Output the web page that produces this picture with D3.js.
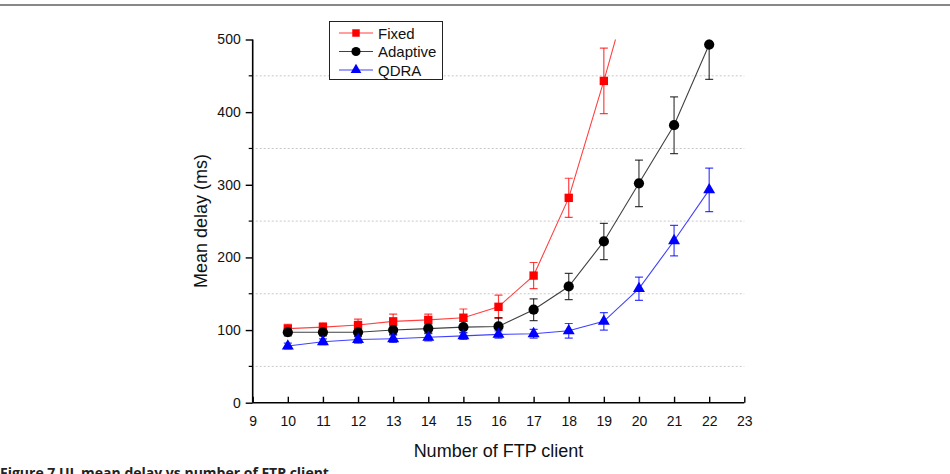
<!DOCTYPE html>
<html>
<head>
<meta charset="utf-8">
<script src="https://cdn.jsdelivr.net/npm/d3@7"></script>
<style>
  body { margin: 0; background: #fff; }
  svg { display: block; font-family: Arial, "Liberation Sans", sans-serif; }
</style>
</head>
<body>
<svg width="950" height="474"></svg>
<script>
// data
const fixedX = [10, 11, 12, 13, 14, 15, 16, 17, 18, 19, 20];
const fixedY = [102, 104, 107, 112, 114, 117, 132, 175, 282, 443, 615];
const fixedErr = [6, 6, 8, 10, 8, 12, 16, 18, 27, 45, 0];

const adaptiveX = [10, 11, 12, 13, 14, 15, 16, 17, 18, 19, 20, 21, 22];
const adaptiveY = [97, 97, 97, 100, 102, 104, 105, 128, 160, 222, 302, 382, 493];
const adaptiveErr = [5, 5, 6, 6, 6, 8, 12, 15, 18, 25, 32, 39, 48];

const qdraX = [10, 11, 12, 13, 14, 15, 16, 17, 18, 19, 20, 21, 22];
const qdraY = [78, 84, 87, 88, 90, 92, 94, 95, 99, 112, 157, 223, 293];
const qdraErr = [4, 4, 5, 5, 5, 5, 5, 6, 10, 12, 16, 21, 30];

const xTicks = [9, 10, 11, 12, 13, 14, 15, 16, 17, 18, 19, 20, 21, 22, 23];
const yTicks = [0, 100, 200, 300, 400, 500];
const yMinor = [50, 150, 250, 350, 450];

const series = [
  { name: "Fixed", color: "#ff0000", symbol: d3.symbolSquare, size: 70, xs: fixedX, ys: fixedY, errs: fixedErr },
  { name: "Adaptive", color: "#000000", symbol: d3.symbolCircle, size: 82, xs: adaptiveX, ys: adaptiveY, errs: adaptiveErr },
  { name: "QDRA", color: "#0000ff", symbol: d3.symbolTriangle, size: 62, xs: qdraX, ys: qdraY, errs: qdraErr }
];

const svg = d3.select("svg");

// page rule at the top
svg.append("line")
    .attr("x1", 0).attr("x2", 950)
    .attr("y1", 5).attr("y2", 5)
    .attr("stroke", "#888").attr("stroke-width", 2);

const x = d3.scaleLinear().domain([9, 23]).range([252.7, 744.3]);
const y = d3.scaleLinear().domain([0, 500]).range([402.7, 39.5]);

// clip for data
svg.append("clipPath").attr("id", "plot")
    .append("rect")
    .attr("x", x(9)).attr("y", y(500))
    .attr("width", x(23) - x(9)).attr("height", y(0) - y(500));

// dotted grid at minor values
svg.append("g")
    .selectAll("line")
    .data(yMinor)
    .join("line")
    .attr("x1", x(9) + 3).attr("x2", x(23))
    .attr("y1", d => y(d)).attr("y2", d => y(d))
    .attr("stroke", "#c8c8c8")
    .attr("stroke-width", 1)
    .attr("stroke-dasharray", "2 2");

// Y axis
const yAxis = svg.append("g")
    .attr("transform", `translate(${x(9)},0)`)
    .call(d3.axisLeft(y).tickValues(yTicks).tickSize(7).tickPadding(5));
yAxis.selectAll("text").style("font-size", "14px").attr("fill", "#111");
yAxis.select(".domain").attr("stroke-width", 1.6).attr("d", `M0,${y(0)}V${y(500)}`);
yAxis.selectAll(".tick line").attr("stroke-width", 1.4);
yAxis.selectAll(".minor")
    .data(yMinor)
    .join("line")
    .attr("class", "minor")
    .attr("x1", -4).attr("x2", 0)
    .attr("y1", d => y(d)).attr("y2", d => y(d))
    .attr("stroke", "#000").attr("stroke-width", 1.2);

// X axis, ticks pointing inward
const xAxis = svg.append("g")
    .attr("transform", `translate(0,${y(0)})`)
    .call(d3.axisBottom(x).tickValues(xTicks).tickSize(0).tickPadding(13));
xAxis.selectAll("text").style("font-size", "14px").attr("fill", "#111");
xAxis.select(".domain").attr("stroke-width", 1.6).attr("d", `M${x(9)},0H${x(23)}`);
xAxis.selectAll(".tick line").attr("y2", -6).attr("stroke-width", 1.4);

// axis titles
svg.append("text")
    .attr("x", (x(9) + x(23)) / 2)
    .attr("y", 457)
    .attr("text-anchor", "middle")
    .style("font-size", "18px")
    .attr("fill", "#111")
    .text("Number of FTP client");

svg.append("text")
    .attr("transform", `translate(207,${y(250)}) rotate(-90)`)
    .attr("text-anchor", "middle")
    .style("font-size", "18px")
    .attr("fill", "#111")
    .text("Mean delay (ms)");

// series
const dataG = svg.append("g").attr("clip-path", "url(#plot)");
const line = d3.line().x(d => x(d.x)).y(d => y(d.y));

series.forEach(s => {
  const pts = s.xs.map((v, i) => ({ x: v, y: s.ys[i], e: s.errs[i] }));
  const g = dataG.append("g");

  g.append("path")
      .datum(pts)
      .attr("fill", "none")
      .attr("stroke", s.color)
      .attr("stroke-opacity", 0.75)
      .attr("stroke-width", 1.1)
      .attr("d", line);

  const eb = g.selectAll(".err")
      .data(pts.filter(d => d.e > 0))
      .join("g")
      .attr("stroke", s.color)
      .attr("stroke-opacity", 0.75)
      .attr("stroke-width", 1.2);
  eb.append("line")
      .attr("x1", d => x(d.x)).attr("x2", d => x(d.x))
      .attr("y1", d => y(d.y - d.e)).attr("y2", d => y(d.y + d.e));
  eb.append("line")
      .attr("x1", d => x(d.x) - 4).attr("x2", d => x(d.x) + 4)
      .attr("y1", d => y(d.y + d.e)).attr("y2", d => y(d.y + d.e));
  eb.append("line")
      .attr("x1", d => x(d.x) - 4).attr("x2", d => x(d.x) + 4)
      .attr("y1", d => y(d.y - d.e)).attr("y2", d => y(d.y - d.e));

  svg.append("g").selectAll("path")
      .data(pts.filter(d => d.y <= 500))
      .join("path")
      .attr("transform", d => `translate(${x(d.x)},${y(d.y)})`)
      .attr("d", d3.symbol().type(s.symbol).size(s.size))
      .attr("fill", s.color);
});

// legend
const legend = svg.append("g");
legend.append("rect")
    .attr("x", 329.5).attr("y", 21.5)
    .attr("width", 113).attr("height", 58)
    .attr("fill", "#fff")
    .attr("stroke", "#222").attr("stroke-width", 1);

series.forEach((s, i) => {
  const ly = 33 + i * 18.5;
  legend.append("line")
      .attr("x1", 339).attr("x2", 373)
      .attr("y1", ly).attr("y2", ly)
      .attr("stroke", s.color).attr("stroke-opacity", 0.75).attr("stroke-width", 1.1);
  legend.append("path")
      .attr("transform", `translate(356,${ly})`)
      .attr("d", d3.symbol().type(s.symbol).size(s.size * 0.8))
      .attr("fill", s.color);
  legend.append("text")
      .attr("x", 378).attr("y", ly + 5.5)
      .style("font-size", "15px")
      .attr("fill", "#111")
      .text(s.name);
});

// figure caption, partly cut by the page edge as in the source
svg.append("text")
    .attr("x", 0).attr("y", 478)
    .style("font-family", "'Open Sans', 'Noto Sans', sans-serif")
    .style("font-weight", "bold")
    .style("font-size", "14px")
    .attr("fill", "#222")
    .text("Figure 7 UL mean delay vs number of FTP client");
</script>
</body>
</html>
